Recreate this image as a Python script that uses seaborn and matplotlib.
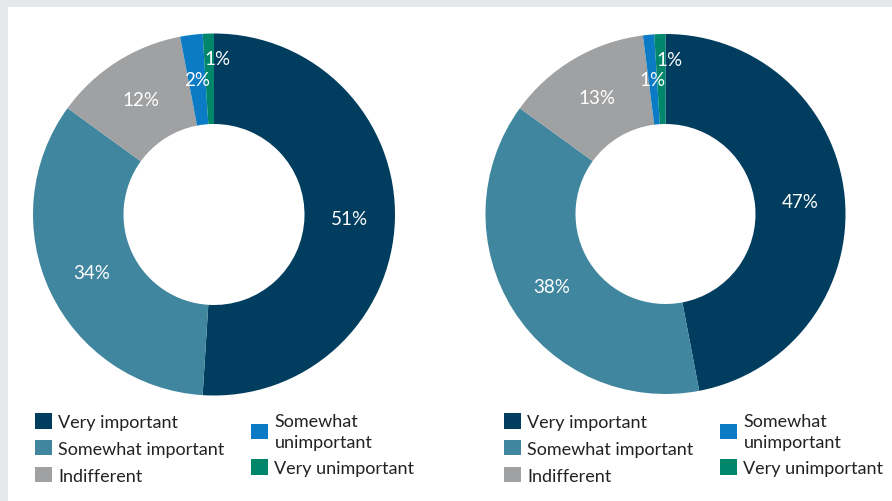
import numpy as np
import matplotlib
matplotlib.use("Agg")
import matplotlib.pyplot as plt
from matplotlib.patches import Rectangle, Patch
import seaborn as sns

# Survey responses, share of respondents (%)
categories = ["Very important", "Somewhat important", "Indifferent",
              "Somewhat\nunimportant", "Very unimportant"]
left_values = [51, 34, 12, 2, 1]
right_values = [47, 38, 13, 1, 1]
colors = ["#003d5e", "#3f869e", "#a0a1a3", "#0a7bc4", "#00876b"]

sns.set_theme(style="white")
plt.rcParams["font.family"] = ["Lato", "DejaVu Sans"]

W, H = 892, 502
fig = plt.figure(figsize=(W / 100, H / 100), dpi=100)
fig.patch.set_facecolor("#e6e7e9")
fig.patches.append(Rectangle((8 / W, 0), 1, (H - 8) / H, transform=fig.transFigure,
                             facecolor="white", edgecolor="none", zorder=-1))


def donut(cx, cy, r, values):
    ax = fig.add_axes([(cx - r) / W, (H - cy - r) / H, 2 * r / W, 2 * r / H])
    ax.pie(values, colors=colors, startangle=90, counterclock=False,
           wedgeprops=dict(width=0.5, linewidth=0), radius=1.0)
    ax.set_xlim(-1, 1)
    ax.set_ylim(-1, 1)
    ax.set_aspect("auto")
    ax.axis("off")
    total = sum(values)
    cum = np.cumsum([0] + list(values))
    for i, v in enumerate(values):
        mid = (cum[i] + cum[i + 1]) / 2 / total
        ang = np.deg2rad(90 - 360 * mid)
        rr = 0.75
        dx = 0.0
        if i == len(values) - 1 and v / total < 0.02:
            rr, ang, dx = 0.86, np.deg2rad(90), 0.02
        ax.text(rr * np.cos(ang) + dx, rr * np.sin(ang), f"{v}%", color="white",
                ha="center", va="center", fontsize=13.5)
    return ax


def legend_block(x0, y0):
    handles = [Patch(facecolor=c, edgecolor="none") for c in colors]
    cols = [(list(range(3)), x0), (list(range(3, 5)), x0 + 216)]
    for idx, x in cols:
        leg = fig.legend([handles[i] for i in idx], [categories[i] for i in idx],
                         loc="upper left", bbox_to_anchor=(x / W, 1 - y0 / H),
                         frameon=False, fontsize=13, handlelength=0.95,
                         handleheight=0.95, handletextpad=0.35, labelspacing=0.55,
                         borderpad=0, borderaxespad=0)
        for t in leg.get_texts():
            t.set_color("#222222")
            t.set_linespacing(1.35)


donut(214, 215.5, 181, left_values)
donut(665.5, 215, 180, right_values)
legend_block(35, 414)
legend_block(504, 414)

fig.savefig("out.png", dpi=100, facecolor=fig.get_facecolor())
